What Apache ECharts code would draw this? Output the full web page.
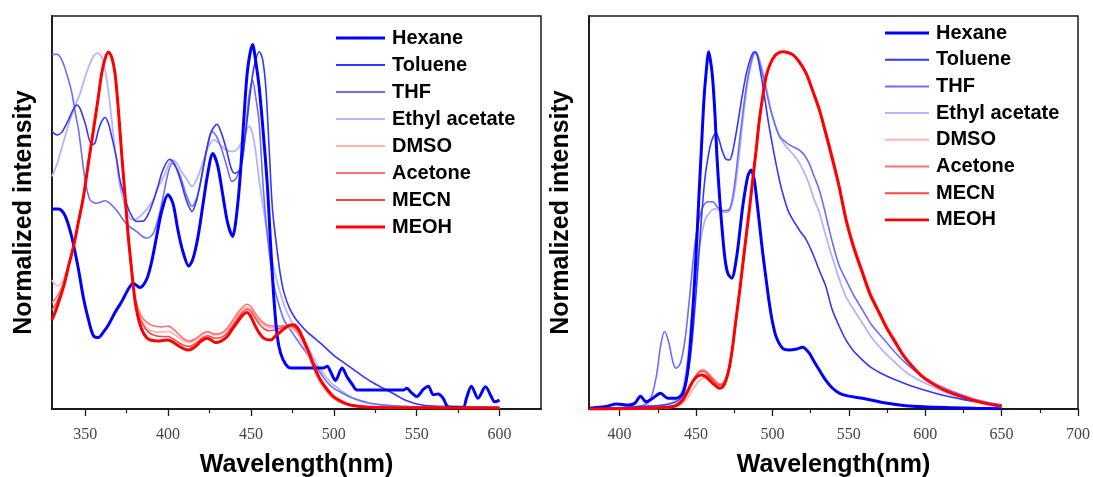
<!DOCTYPE html>
<html><head><meta charset="utf-8">
<script src="https://cdn.jsdelivr.net/npm/echarts@6/dist/echarts.min.js"></script>
<style>html,body{margin:0;padding:0;background:#fff}#c{width:1093px;height:477px}</style>
</head><body><div id="c"></div>
<script>
// ---------- names / tick labels ----------
const seriesNames = ['Hexane','Toluene','THF','Ethyl acetate','DMSO','Acetone','MECN','MEOH'];
const absTickLabels = [350,400,450,500,550,600];
const absMinorTicks = [375,425,475,525,575];
const emTickLabels = [400,450,500,550,600,650,700];
const emMinorTicks = [425,475,525,575,625,675];

// ---------- absorption (left) : [wavelength nm, normalized intensity] ----------
const absHexane = [[330,0.56],[334,0.56],[338,0.54],[342,0.48],[346,0.39],[349,0.31],[352,0.25],[355,0.205],[358,0.2],[361,0.215],[364,0.235],[368,0.27],[372,0.3],[376,0.335],[379,0.352],[383,0.34],[387,0.362],[390,0.41],[393,0.48],[396,0.55],[400,0.6],[403,0.575],[406,0.5],[409,0.44],[412.5,0.4],[415,0.42],[418,0.48],[421,0.57],[424,0.66],[427,0.715],[430,0.68],[433,0.6],[436,0.52],[439,0.483],[441,0.53],[443.5,0.65],[446,0.83],[448,0.95],[451,1.02],[453,0.97],[455,0.9],[457.5,0.77],[460,0.62],[462,0.45],[464,0.3],[466,0.2],[468,0.155],[471,0.125],[474,0.115],[480,0.115],[486,0.115],[494,0.115],[496,0.12],[498,0.105],[501,0.08],[505,0.115],[508,0.09],[511,0.07],[514,0.053],[525,0.053],[542,0.053],[544,0.058],[547,0.045],[550,0.035],[554,0.055],[557,0.064],[560,0.04],[563,0.042],[566,0.03],[568,0.011],[570,0.005],[578,0.005],[580,0.03],[583,0.064],[587,0.03],[591.5,0.062],[595,0.035],[597,0.02],[600,0.025]];
const absToluene = [[330,0.777],[333,0.767],[336,0.775],[340,0.81],[343,0.84],[345,0.851],[347,0.84],[350,0.8],[354,0.739],[356,0.745],[358,0.781],[360,0.805],[362,0.816],[364,0.8],[366,0.763],[369,0.7],[371,0.641],[374,0.59],[377,0.55],[381,0.525],[385,0.526],[388,0.545],[391,0.58],[394,0.625],[397,0.67],[401,0.699],[404,0.685],[407.5,0.641],[411,0.585],[414.5,0.553],[417,0.58],[420,0.645],[423,0.72],[426,0.775],[429.5,0.797],[432,0.775],[435,0.73],[438,0.675],[440,0.66],[443.5,0.67],[446,0.74],[448,0.82],[450,0.9],[452,0.96],[455,1.0],[457,0.98],[459,0.9],[461,0.73],[463,0.56],[466,0.437],[468,0.37],[470,0.325],[473,0.285],[476,0.259],[480,0.235],[484,0.215],[488,0.2],[493,0.18],[500,0.15],[506,0.13],[512,0.11],[518,0.09],[525,0.07],[532,0.053],[538,0.038],[543,0.025],[550,0.014],[560,0.008],[600,0.005]];
const absTHF = [[330,0.992],[333,0.993],[335,0.985],[337,0.965],[340,0.92],[342,0.884],[344,0.83],[346,0.781],[348,0.71],[350,0.641],[353,0.585],[357,0.576],[360,0.58],[362,0.583],[364,0.579],[366,0.571],[370,0.55],[373,0.529],[377,0.51],[381,0.497],[384,0.485],[387,0.478],[390,0.485],[392,0.501],[395,0.55],[397.5,0.604],[400,0.66],[402.5,0.688],[405,0.675],[407.5,0.651],[411,0.6],[414.5,0.567],[418,0.6],[421.5,0.679],[424,0.74],[426.5,0.777],[429,0.765],[432.5,0.725],[436,0.67],[438.5,0.637],[441,0.645],[444.5,0.688],[447,0.79],[449,0.88],[451,0.92],[453,0.87],[455,0.8],[457,0.65],[459,0.529],[461.5,0.42],[464,0.343],[467,0.29],[470,0.249],[474,0.22],[478,0.193],[483,0.16],[488,0.128],[492,0.1],[496,0.075],[500,0.058],[505,0.045],[510,0.033],[515,0.025],[522,0.016],[530,0.011],[545,0.007],[600,0.003]];
const absEthylAcetate = [[330,0.651],[333,0.685],[335,0.716],[338,0.765],[341,0.81],[344,0.85],[347,0.884],[350,0.93],[353,0.968],[355.5,0.99],[357.5,0.996],[360,0.985],[362,0.95],[364,0.89],[366,0.81],[368.5,0.71],[371,0.623],[374,0.57],[377,0.534],[380,0.53],[383,0.539],[387,0.558],[391,0.585],[394,0.62],[397.5,0.651],[400,0.68],[402.5,0.697],[405,0.69],[407.5,0.669],[411,0.645],[414.5,0.623],[418,0.65],[421.5,0.697],[424.5,0.735],[427.5,0.753],[430.5,0.745],[433.5,0.73],[437,0.722],[439.5,0.721],[443,0.735],[445.8,0.763],[448.8,0.791],[451,0.77],[453,0.716],[455,0.64],[458,0.548],[461,0.46],[464,0.389],[468,0.32],[472,0.268],[477,0.225],[482,0.193],[487,0.15],[492,0.109],[498,0.075],[504,0.053],[509,0.037],[514,0.025],[520,0.017],[530,0.011],[550,0.006],[600,0.003]];
const absDMSO = [[330,0.361],[332,0.348],[334,0.345],[337,0.365],[340,0.405],[343,0.458],[346,0.525],[349,0.595],[352,0.69],[355,0.781],[358,0.875],[360,0.94],[362,0.98],[364,0.998],[366,0.985],[368,0.94],[370,0.84],[372,0.72],[374,0.605],[376,0.49],[378,0.4],[380,0.32],[382,0.275],[384,0.25],[387,0.228],[390,0.218],[395,0.215],[400,0.217],[405,0.205],[409,0.192],[413,0.186],[417,0.195],[421,0.21],[424,0.215],[428,0.207],[432,0.21],[436,0.225],[440,0.25],[444,0.273],[447.5,0.285],[450,0.278],[453,0.258],[457,0.238],[461,0.228],[465,0.227],[469,0.23],[473,0.228],[476,0.222],[479,0.205],[482,0.178],[485,0.145],[488,0.11],[491,0.08],[495,0.052],[499,0.032],[504,0.018],[510,0.01],[520,0.006],[600,0.003]];
const absAcetone = [[330,0.297],[333,0.315],[337,0.352],[340,0.402],[343,0.456],[346,0.525],[349,0.595],[352,0.69],[355,0.781],[358,0.875],[360,0.94],[362,0.98],[364,0.999],[366,0.985],[368,0.94],[370,0.84],[372,0.716],[374,0.6],[376,0.485],[378,0.392],[380,0.315],[382,0.28],[384,0.26],[387,0.243],[391,0.233],[396,0.23],[400,0.232],[405,0.216],[409,0.198],[413,0.19],[417,0.198],[421,0.212],[424,0.217],[428,0.21],[432,0.212],[436,0.228],[440,0.255],[444,0.28],[447.8,0.293],[450.5,0.283],[453.5,0.262],[457,0.243],[461,0.233],[465,0.232],[469,0.233],[473,0.233],[476,0.228],[479,0.212],[482,0.185],[485,0.15],[488,0.115],[491,0.085],[495,0.056],[499,0.036],[504,0.021],[510,0.012],[520,0.006],[600,0.003]];
const absMECN = [[330,0.277],[333,0.3],[337,0.345],[340,0.4],[343,0.455],[346,0.525],[349,0.595],[352,0.69],[355,0.781],[358,0.875],[360,0.94],[362,0.98],[364,0.999],[366,0.985],[368,0.94],[370,0.84],[372,0.716],[374,0.6],[376,0.483],[378,0.39],[380,0.31],[382,0.265],[385,0.235],[388,0.216],[392,0.206],[396,0.203],[400,0.203],[405,0.19],[409,0.179],[413,0.175],[417,0.185],[421,0.2],[424,0.205],[428,0.198],[432,0.2],[436,0.215],[440,0.24],[444,0.266],[447.8,0.28],[450.5,0.27],[453.5,0.248],[457,0.228],[461,0.219],[465,0.222],[469,0.228],[473,0.232],[476,0.231],[479,0.218],[482,0.19],[485,0.155],[488,0.118],[491,0.088],[495,0.058],[499,0.037],[504,0.022],[510,0.012],[520,0.006],[600,0.003]];
const absMEOH = [[330,0.249],[333,0.285],[337,0.343],[340,0.4],[343,0.455],[346,0.525],[349,0.595],[352,0.69],[355,0.781],[358,0.875],[360,0.94],[362,0.98],[364,0.999],[366,0.985],[368,0.94],[370,0.84],[372,0.716],[374,0.6],[376,0.483],[378,0.39],[380,0.305],[382,0.255],[384.3,0.221],[387,0.2],[389.3,0.193],[394,0.19],[399.4,0.193],[402,0.19],[405.5,0.179],[409,0.17],[412.5,0.165],[415,0.17],[417.5,0.179],[420,0.19],[423.6,0.198],[426,0.193],[428.6,0.186],[432,0.19],[435.7,0.203],[439,0.225],[442.7,0.249],[445.5,0.265],[447.8,0.27],[450,0.258],[452.8,0.231],[455,0.213],[457.8,0.198],[461.9,0.193],[465,0.205],[468,0.217],[471,0.228],[474,0.235],[476,0.236],[478,0.228],[480,0.212],[483,0.18],[486,0.146],[489,0.11],[492,0.081],[496,0.055],[500,0.034],[505,0.02],[510,0.011],[517,0.006],[530,0.004],[600,0.003]];

// ---------- emission (right) : [wavelength nm, normalized intensity] ----------
const emHexane = [[380,0.002],[391,0.007],[398,0.014],[406,0.011],[410,0.016],[413.7,0.036],[417.4,0.02],[421.8,0.03],[426.8,0.044],[431.6,0.03],[437,0.03],[441.4,0.044],[444,0.09],[445.8,0.156],[448,0.28],[450.1,0.436],[452,0.6],[453.4,0.716],[455,0.85],[456.2,0.92],[458.4,1.0],[460,0.96],[461,0.92],[462.5,0.82],[463.6,0.716],[465.5,0.59],[467.5,0.483],[469,0.42],[470.8,0.38],[473.4,0.366],[476.3,0.417],[478.5,0.49],[480.6,0.567],[483.9,0.651],[486.1,0.669],[488,0.645],[489.3,0.604],[491.5,0.52],[493.7,0.436],[496,0.36],[498,0.296],[500,0.245],[502.4,0.203],[506.7,0.17],[511.1,0.165],[516,0.168],[519.8,0.173],[524.2,0.156],[527,0.135],[530.7,0.109],[535,0.08],[539.4,0.058],[544,0.044],[550,0.036],[559,0.03],[566,0.024],[572,0.018],[582,0.012],[592,0.008],[613,0.004],[633,0.002],[650,0.001]];
const emToluene = [[380,0.001],[400,0.003],[420,0.008],[430,0.012],[437,0.02],[441,0.035],[444,0.08],[447,0.17],[450,0.32],[453,0.5],[456,0.65],[459,0.73],[461,0.76],[463.2,0.772],[465,0.755],[467,0.725],[469.5,0.7],[471.9,0.697],[474,0.72],[477,0.79],[480,0.87],[483,0.94],[486,0.985],[488.2,1.0],[490,0.99],[492,0.95],[495,0.87],[497.5,0.8],[500.2,0.735],[504.6,0.641],[508,0.585],[511,0.548],[517.6,0.501],[522,0.475],[526.3,0.436],[531,0.385],[535,0.343],[539,0.28],[543.8,0.231],[548.2,0.193],[553,0.163],[559,0.137],[565,0.115],[572,0.098],[580.8,0.081],[590,0.066],[602.6,0.049],[613,0.037],[624.4,0.027],[637,0.018],[650,0.011]];
const emTHF = [[380,0.001],[400,0.004],[415,0.01],[420,0.025],[424,0.09],[427,0.18],[429.4,0.217],[432,0.19],[435,0.13],[437,0.114],[440,0.13],[443,0.2],[446,0.32],[449,0.45],[452,0.53],[455,0.57],[458,0.58],[461,0.58],[464,0.565],[468,0.555],[472,0.56],[475,0.62],[478,0.73],[481,0.84],[484,0.93],[487,0.985],[489,1.0],[491,0.98],[494,0.93],[497,0.87],[500,0.82],[504.6,0.763],[508,0.75],[511,0.74],[517.6,0.725],[521,0.71],[524,0.688],[527,0.655],[530.7,0.613],[534,0.56],[537.3,0.5],[540,0.455],[543.8,0.4],[548.2,0.361],[553,0.32],[559,0.277],[565,0.235],[572,0.2],[580.8,0.156],[590,0.118],[602.6,0.081],[613,0.058],[624.4,0.039],[637,0.022],[650,0.011]];
const emEthylAcetate = [[380,0.001],[400,0.003],[420,0.007],[430,0.012],[437,0.025],[441,0.05],[444,0.12],[447,0.25],[450,0.38],[453,0.47],[456,0.53],[459,0.55],[462,0.56],[466,0.555],[469,0.55],[472,0.555],[475,0.6],[478,0.7],[481,0.82],[484,0.92],[487,0.98],[489,1.0],[491,0.985],[494,0.94],[497,0.88],[500,0.82],[504,0.77],[508,0.74],[512,0.72],[516,0.7],[520,0.67],[524,0.63],[527,0.59],[530.7,0.55],[534,0.5],[537.3,0.45],[541,0.4],[544,0.36],[548,0.315],[553,0.28],[559,0.24],[565,0.2],[572,0.165],[580.8,0.128],[590,0.095],[602.6,0.067],[613,0.047],[624.4,0.028],[637,0.018],[650,0.01]];
const emDMSO = [[380,0],[420,0.001],[430,0.003],[436,0.006],[440,0.012],[444,0.028],[448,0.055],[452,0.078],[456,0.088],[459,0.085],[462,0.078],[465.5,0.07],[468,0.073],[470,0.088],[472,0.12],[474,0.168],[476,0.235],[478.4,0.315],[480.5,0.39],[482.8,0.472],[485,0.55],[487.1,0.632],[489.5,0.72],[491.5,0.8],[493.7,0.868],[495.9,0.925],[498.5,0.962],[501.3,0.985],[504,0.996],[507.5,1.0],[510,0.998],[513.3,0.993],[517,0.978],[522,0.945],[526,0.9],[530.7,0.845],[535,0.78],[539.4,0.71],[543.8,0.63],[548.2,0.54],[553,0.465],[559,0.39],[564,0.33],[570,0.275],[575,0.232],[580.8,0.19],[586,0.153],[591.7,0.123],[597,0.099],[602.6,0.08],[613,0.055],[624.4,0.036],[637,0.02],[650,0.008]];
const emAcetone = [[380,0],[420,0.002],[430,0.005],[436,0.01],[440,0.022],[444,0.048],[448,0.08],[452,0.105],[455,0.11],[458,0.1],[462,0.082],[465.5,0.07],[468,0.074],[470,0.09],[472,0.122],[474,0.172],[476,0.242],[478.4,0.322],[480.5,0.398],[482.8,0.48],[485,0.558],[487.1,0.64],[489.5,0.728],[491.5,0.808],[493.7,0.873],[495.9,0.93],[498.5,0.964],[501.3,0.986],[504,0.997],[507.2,1.0],[510,0.998],[513.3,0.992],[517,0.976],[522,0.942],[526,0.897],[530.7,0.84],[535,0.774],[539.4,0.702],[543.8,0.624],[548.2,0.533],[553,0.459],[559,0.384],[564,0.324],[570,0.271],[575,0.228],[580.8,0.187],[586,0.15],[591.7,0.12],[597,0.097],[602.6,0.078],[613,0.053],[624.4,0.035],[637,0.019],[650,0.008]];
const emMECN = [[380,0],[420,0.002],[430,0.005],[436,0.01],[440,0.022],[444,0.05],[448,0.08],[452,0.103],[455,0.105],[458,0.095],[462,0.077],[465.5,0.066],[468,0.07],[470,0.087],[472,0.12],[474,0.172],[476,0.243],[478.4,0.323],[480.5,0.4],[482.8,0.482],[485,0.56],[487.1,0.64],[489.5,0.729],[491.5,0.809],[493.7,0.874],[495.9,0.93],[498.5,0.964],[501.3,0.986],[504,0.997],[507.2,1.0],[510,0.998],[513.3,0.992],[517,0.975],[522,0.941],[526,0.896],[530.7,0.839],[535,0.772],[539.4,0.7],[543.8,0.622],[548.2,0.531],[553,0.457],[559,0.382],[564,0.322],[570,0.27],[575,0.227],[580.8,0.186],[586,0.15],[591.7,0.119],[597,0.096],[602.6,0.078],[613,0.053],[624.4,0.035],[637,0.019],[650,0.008]];
const emMEOH = [[380,0],[418,0.002],[430,0.005],[434.8,0.007],[438,0.012],[441.4,0.025],[444,0.045],[447.9,0.077],[450.5,0.09],[453.4,0.095],[456,0.092],[458.8,0.081],[462,0.068],[465.4,0.058],[467.5,0.062],[469.7,0.081],[472,0.12],[474,0.175],[476,0.245],[478.4,0.324],[480.5,0.4],[482.8,0.483],[485,0.56],[487.1,0.641],[489.5,0.73],[491.5,0.81],[493.7,0.875],[495.9,0.931],[498.5,0.965],[501.3,0.987],[504,0.997],[507.2,1.0],[510,0.998],[513.3,0.992],[517,0.975],[522,0.94],[526,0.895],[530.7,0.838],[535,0.77],[539.4,0.697],[543.8,0.62],[548.2,0.529],[553,0.455],[559,0.38],[564,0.32],[570,0.268],[575,0.225],[580.8,0.184],[586,0.148],[591.7,0.118],[597,0.095],[602.6,0.077],[613,0.052],[624.4,0.034],[637,0.018],[650,0.007]];

// ---------- styles ----------
const lineColors = {'Hexane':'#0000ff','Toluene':'#3636ff','THF':'#6c6cff','Ethyl acetate':'#b4b4ff','DMSO':'#ffb4b4','Acetone':'#ff7272','MECN':'#ff4646','MEOH':'#ff0000'};
const lineWidths = {'Hexane':3,'Toluene':1.6,'THF':1.6,'Ethyl acetate':1.8,'DMSO':1.8,'Acetone':1.6,'MECN':1.6,'MEOH':3};
const absData = {'Hexane':absHexane,'Toluene':absToluene,'THF':absTHF,'Ethyl acetate':absEthylAcetate,'DMSO':absDMSO,'Acetone':absAcetone,'MECN':absMECN,'MEOH':absMEOH};
const emData = {'Hexane':emHexane,'Toluene':emToluene,'THF':emTHF,'Ethyl acetate':emEthylAcetate,'DMSO':emDMSO,'Acetone':emAcetone,'MECN':emMECN,'MEOH':emMEOH};
const drawOrder = ['Ethyl acetate','THF','Toluene','DMSO','Acetone','MECN','Hexane','MEOH'];

const FONT = '"Liberation Sans", Arial, sans-serif';
const axisColor = '#1a1a1a';

// legend icon: a horizontal bar of given thickness inside a 49x20 box
function barIcon(t) {
  const a = (10 - t / 2).toFixed(2), b = (10 + t / 2).toFixed(2);
  return 'path://M0,0 L0.01,0 L0,0.01 Z M0,' + a + ' L49,' + a + ' L49,' + b + ' L0,' + b + ' Z M0,20 L0.01,20 L0,19.99 Z';
}

function mainX(gridIndex, min, max, labels) {
  return {
    type:'value', gridIndex, min, max, position:'bottom',
    name:'Wavelength(nm)', nameLocation:'middle', nameGap:44,
    nameTextStyle:{fontFamily:FONT, fontWeight:'bold', fontSize:25, color:'#000'},
    axisLine:{show:true, onZero:false, lineStyle:{color:axisColor, width:1.8}},
    axisTick:{show:true, inside:false, length:7, lineStyle:{color:axisColor, width:1.3}, customValues:labels},
    axisLabel:{show:true, margin:18, customValues:labels, fontFamily:'"Liberation Serif", "DejaVu Serif", serif', fontSize:16, color:'#444'},
    splitLine:{show:false}
  };
}
function minorX(gridIndex, min, max, ticks) {
  return {
    type:'value', gridIndex, min, max, position:'bottom',
    axisLine:{show:false},
    axisTick:{show:true, inside:false, length:4, lineStyle:{color:axisColor, width:1.2}, customValues:ticks},
    axisLabel:{show:false}, splitLine:{show:false}
  };
}
function yAx(gridIndex) {
  return {
    type:'value', gridIndex, min:0, max:1.1,
    name:'Normalized intensity', nameLocation:'middle', nameGap:15,
    nameTextStyle:{fontFamily:FONT, fontWeight:'bold', fontSize:25, color:'#000'},
    axisLine:{show:true, onZero:false, lineStyle:{color:axisColor, width:1.8}},
    axisTick:{show:false}, axisLabel:{show:false}, splitLine:{show:false}
  };
}
function legendAt(left, top, itemWidth, gap) {
  return {
    data: seriesNames.map(n => ({name:n, icon:barIcon(lineWidths[n] >= 3 ? 3.2 : 2.2), itemStyle:{color:lineColors[n]}})),
    orient:'vertical', left, top, padding:0,
    itemWidth, itemHeight:20, itemGap:gap,
    textStyle:{fontFamily:FONT, fontWeight:'bold', fontSize:20, color:'#000', padding:[0,0,0,2]},
    selectedMode:false
  };
}

const series = [];
drawOrder.forEach(n => {
  const common = {name:n, type:'line', symbol:'none', smooth:0.3, animation:false,
    lineStyle:{color:lineColors[n], width:lineWidths[n]}, itemStyle:{color:lineColors[n]}};
  series.push(Object.assign({}, common, {xAxisIndex:0, yAxisIndex:0, data:absData[n]}));
  series.push(Object.assign({}, common, {xAxisIndex:2, yAxisIndex:1, data:emData[n]}));
});

const chart = echarts.init(document.getElementById('c'), null, {renderer:'canvas'});
chart.setOption({
  animation:false,
  backgroundColor:'#fff',
  grid:[
    {left:52, top:16, width:489, height:393, show:true, borderColor:axisColor, borderWidth:1.5, containLabel:false, outerBoundsMode:'none'},
    {left:589, top:16, width:489, height:393, show:true, borderColor:axisColor, borderWidth:1.5, containLabel:false, outerBoundsMode:'none'}
  ],
  xAxis:[ mainX(0,330,625,absTickLabels), minorX(0,330,625,absMinorTicks),
          mainX(1,380,700,emTickLabels), minorX(1,380,700,emMinorTicks) ],
  yAxis:[ yAx(0), yAx(1) ],
  legend:[ legendAt(336, 28, 49, 7), legendAt(885, 23, 44, 6.7) ],
  series
});
</script></body></html>
